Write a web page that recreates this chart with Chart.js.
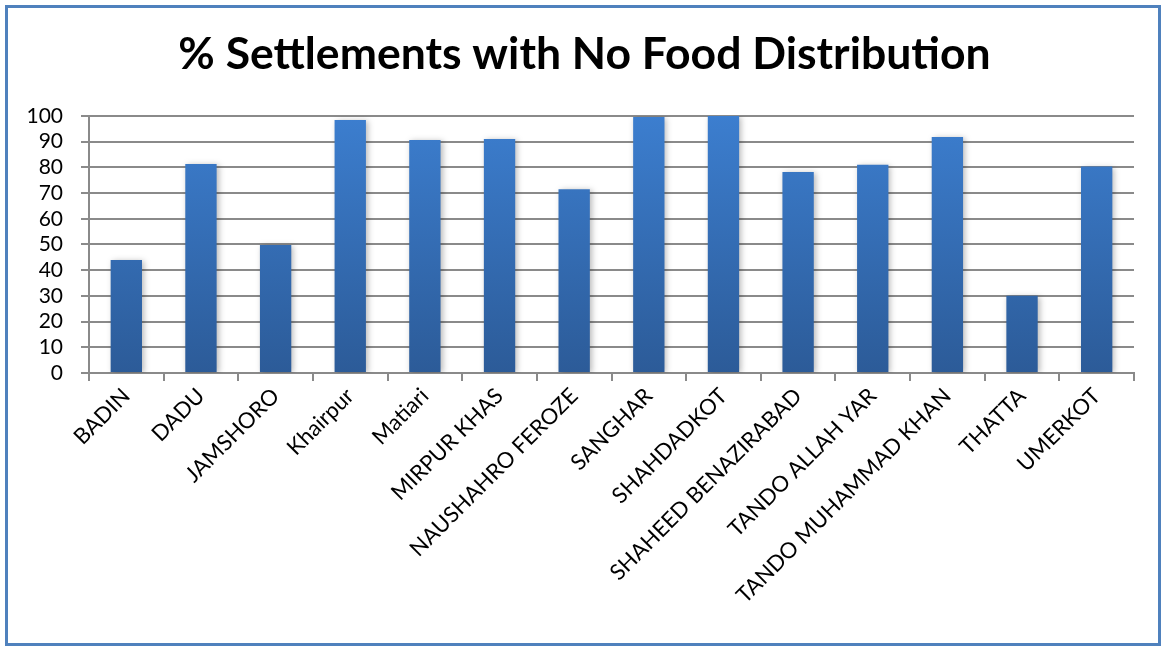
<!DOCTYPE html>
<html>
<head>
<meta charset="utf-8">
<script src="https://cdn.jsdelivr.net/npm/chart.js@4/dist/chart.umd.min.js"></script>
<style>
  html, body { margin: 0; padding: 0; background: #fff; }
  #wrap { width: 1161px; height: 646px; position: relative; }
</style>
</head>
<body>
<div id="wrap"><canvas id="chart"></canvas></div>
<script>
// districts and share of settlements without food distribution (%)
const districts = [
  "BADIN", "DADU", "JAMSHORO", "Khairpur", "Matiari", "MIRPUR KHAS",
  "NAUSHAHRO FEROZE", "SANGHAR", "SHAHDADKOT", "SHAHEED BENAZIRABAD",
  "TANDO ALLAH YAR", "TANDO MUHAMMAD KHAN", "THATTA", "UMERKOT"
];
const noFoodPct = [44, 81.3, 49.8, 98.4, 90.6, 91, 71.5, 99.6, 100, 78.2, 81, 91.8, 30, 80.3];
const yTicks = [0, 10, 20, 30, 40, 50, 60, 70, 80, 90, 100];

const GRID = "#8a8a8a";

// blue frame round the whole chart
const framePlugin = {
  id: "frame",
  afterDraw(chart) {
    const ctx = chart.ctx;
    ctx.save();
    ctx.strokeStyle = "#4f81bd";
    ctx.lineWidth = 3;
    ctx.strokeRect(6.5, 6.5, 1153, 638);
    ctx.restore();
  }
};

// soft drop shadow behind the bars
const shadowPlugin = {
  id: "barShadow",
  beforeDatasetsDraw(chart) {
    const ctx = chart.ctx;
    ctx.save();
    ctx.shadowColor = "rgba(0,0,0,0.28)";
    ctx.shadowBlur = 6;
    ctx.shadowOffsetX = 2;
    ctx.shadowOffsetY = 1;
  },
  afterDatasetsDraw(chart) {
    chart.ctx.restore();
  }
};

function barGradient(context) {
  const area = context.chart.chartArea;
  if (!area) return "#3a7bc8";
  const g = context.chart.ctx.createLinearGradient(0, area.top, 0, area.bottom);
  g.addColorStop(0, "#3c7ecf");
  g.addColorStop(1, "#2c5b98");
  return g;
}

new Chart(document.getElementById("chart"), {
  type: "bar",
  data: {
    labels: districts,
    datasets: [
      {
        label: "% Settlements with No Food Distribution",
        data: noFoodPct,
        backgroundColor: barGradient,
        barPercentage: 0.42,
        categoryPercentage: 1,
      },
    ],
  },
  options: {
    responsive: true,
    maintainAspectRatio: false,
    animation: false,
    layout: { padding: { left: 18, right: 10, top: 0, bottom: 0 } },
    plugins: {
      legend: { display: false },
      tooltip: { enabled: false },
      title: {
        display: true,
        text: "% Settlements with No Food Distribution",
        color: "#000",
        font: { family: "Lato", size: 44.5, weight: "bold", lineHeight: 1.2 },
        padding: { top: 28, bottom: 34.5 },
      },
    },
    scales: {
      x: {
        grid: {
          display: true,
          drawOnChartArea: false,
          drawTicks: true,
          tickLength: 8,
          color: GRID,
          lineWidth: 2,
          offset: true,
        },
        border: { color: GRID, width: 2 },
        ticks: {
          color: "#000",
          font: { family: "Lato", size: 22 },
          maxRotation: 45,
          minRotation: 45,
          autoSkip: false,
          padding: 2,
        },
        afterFit(scale) {
          scale.height = 273;
        },
      },
      y: {
        min: 0,
        max: 100,
        afterBuildTicks(scale) {
          scale.ticks = yTicks.map((v) => ({ value: v }));
        },
        grid: {
          color: GRID,
          lineWidth: 2,
          tickLength: 8,
        },
        border: { color: GRID, width: 2 },
        ticks: {
          color: "#000",
          font: { family: "Lato", size: 21 },
          padding: 18,
          autoSkip: false,
        },
        afterFit(scale) {
          scale.width = 71;
        },
      },
      // empty spacer on the right so the plot stops short of the frame
      spacer: {
        position: "right",
        min: 0,
        max: 100,
        grid: { display: false },
        ticks: { display: false },
        border: { display: false },
        afterFit(scale) {
          scale.width = 17;
        },
      },
    },
  },
  plugins: [shadowPlugin, framePlugin],
});
</script>
</body>
</html>
